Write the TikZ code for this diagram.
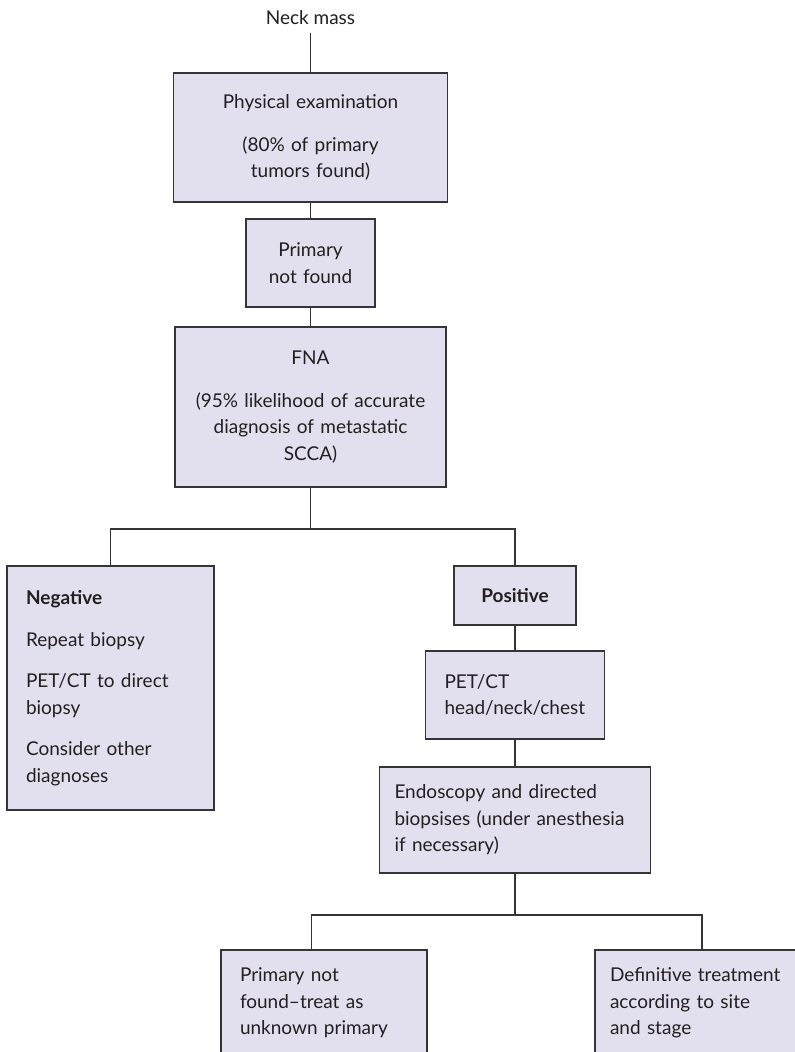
\documentclass[tikz,border=0pt]{standalone}
\usepackage{fontspec}
\setmainfont{Lato}
\usetikzlibrary{calc}
\definecolor{boxfill}{HTML}{E2E0EE}
\definecolor{boxline}{HTML}{353535}
\definecolor{ink}{HTML}{231F20}
\begin{document}
\begin{tikzpicture}[x=1pt,y=-1pt,
  every node/.style={font=\fontsize{19}{26.5}\selectfont, text=ink},
  box/.style={draw=boxline, fill=boxfill, line width=1.2pt, rectangle,
              inner xsep=0pt, inner ysep=0pt},
  cbox/.style={box, align=center},
  lbox/.style={box, align=left},
  link/.style={draw=boxline, line width=1.2pt}]
\useasboundingbox (0,0) rectangle (795,1052);
\clip (0,0) rectangle (795,1052);
\fill[white] (0,0) rectangle (795,1052);

% top of the pathway
\node[inner xsep=0pt, inner ysep=9pt, anchor=base] (neck) at (310.5,24) {Neck mass};

\node[cbox, minimum width=274, minimum height=129, text width=254] (phys) at (310.5,137.5)
  {Physical examination\\[16pt](80\% of primary\\tumors found)};

\node[cbox, minimum width=129, minimum height=88, text width=115] (pnf) at (310.5,263)
  {Primary\\not found};

\node[cbox, minimum width=271, minimum height=160, text width=255] (fna) at (310.5,407)
  {FNA\\[16pt](95\% likelihood of accurate\\diagnosis of metastatic\\SCCA)};

% negative branch
\node[lbox, minimum width=207, minimum height=244, text width=169] (neg) at (110.5,688)
  {\textbf{Negative}\\[15pt]Repeat biopsy\\[15pt]PET/CT to direct\\biopsy\\[15pt]Consider other\\diagnoses};

% positive branch
\node[cbox, minimum width=122, minimum height=59, text width=110] (pos) at (515,595.5)
  {\textbf{Positive}};

\node[lbox, minimum width=179, minimum height=88, text width=141] (pet) at (515,695)
  {PET/CT\\head/neck/chest};

\node[lbox, minimum width=271, minimum height=106, text width=241] (endo) at (515,820)
  {Endoscopy and directed\\biopsises (under anesthesia\\if necessary)};

\node[lbox, minimum width=206, minimum height=106, text width=168] (unk) at (324,1003)
  {Primary not\\found--treat as\\unknown primary};

\node[lbox, minimum width=214, minimum height=106, text width=184] (defin) at (702,1003)
  {Definitive treatment\\according to site\\and stage};

% junction points of the branches
\coordinate (j1) at (310.5,529);
\coordinate (j2) at (515,915);
\coordinate (unktop) at ($(unk.north west)+(91,0)$);

% connectors
\draw[link] (neck.south) -- (phys.north);
\draw[link] (phys.south) -- (pnf.north);
\draw[link] (pnf.south) -- (fna.north);
\draw[link] (fna.south) -- (j1);
\draw[link] (neg.north) |- (j1) -| (pos.north);
\draw[link] (pos.south) -- (pet.north);
\draw[link] (pet.south) -- (endo.north);
\draw[link] (endo.south) -- (j2);
\draw[link] (unktop) |- (j2) -| (defin.north);
\end{tikzpicture}
\end{document}
